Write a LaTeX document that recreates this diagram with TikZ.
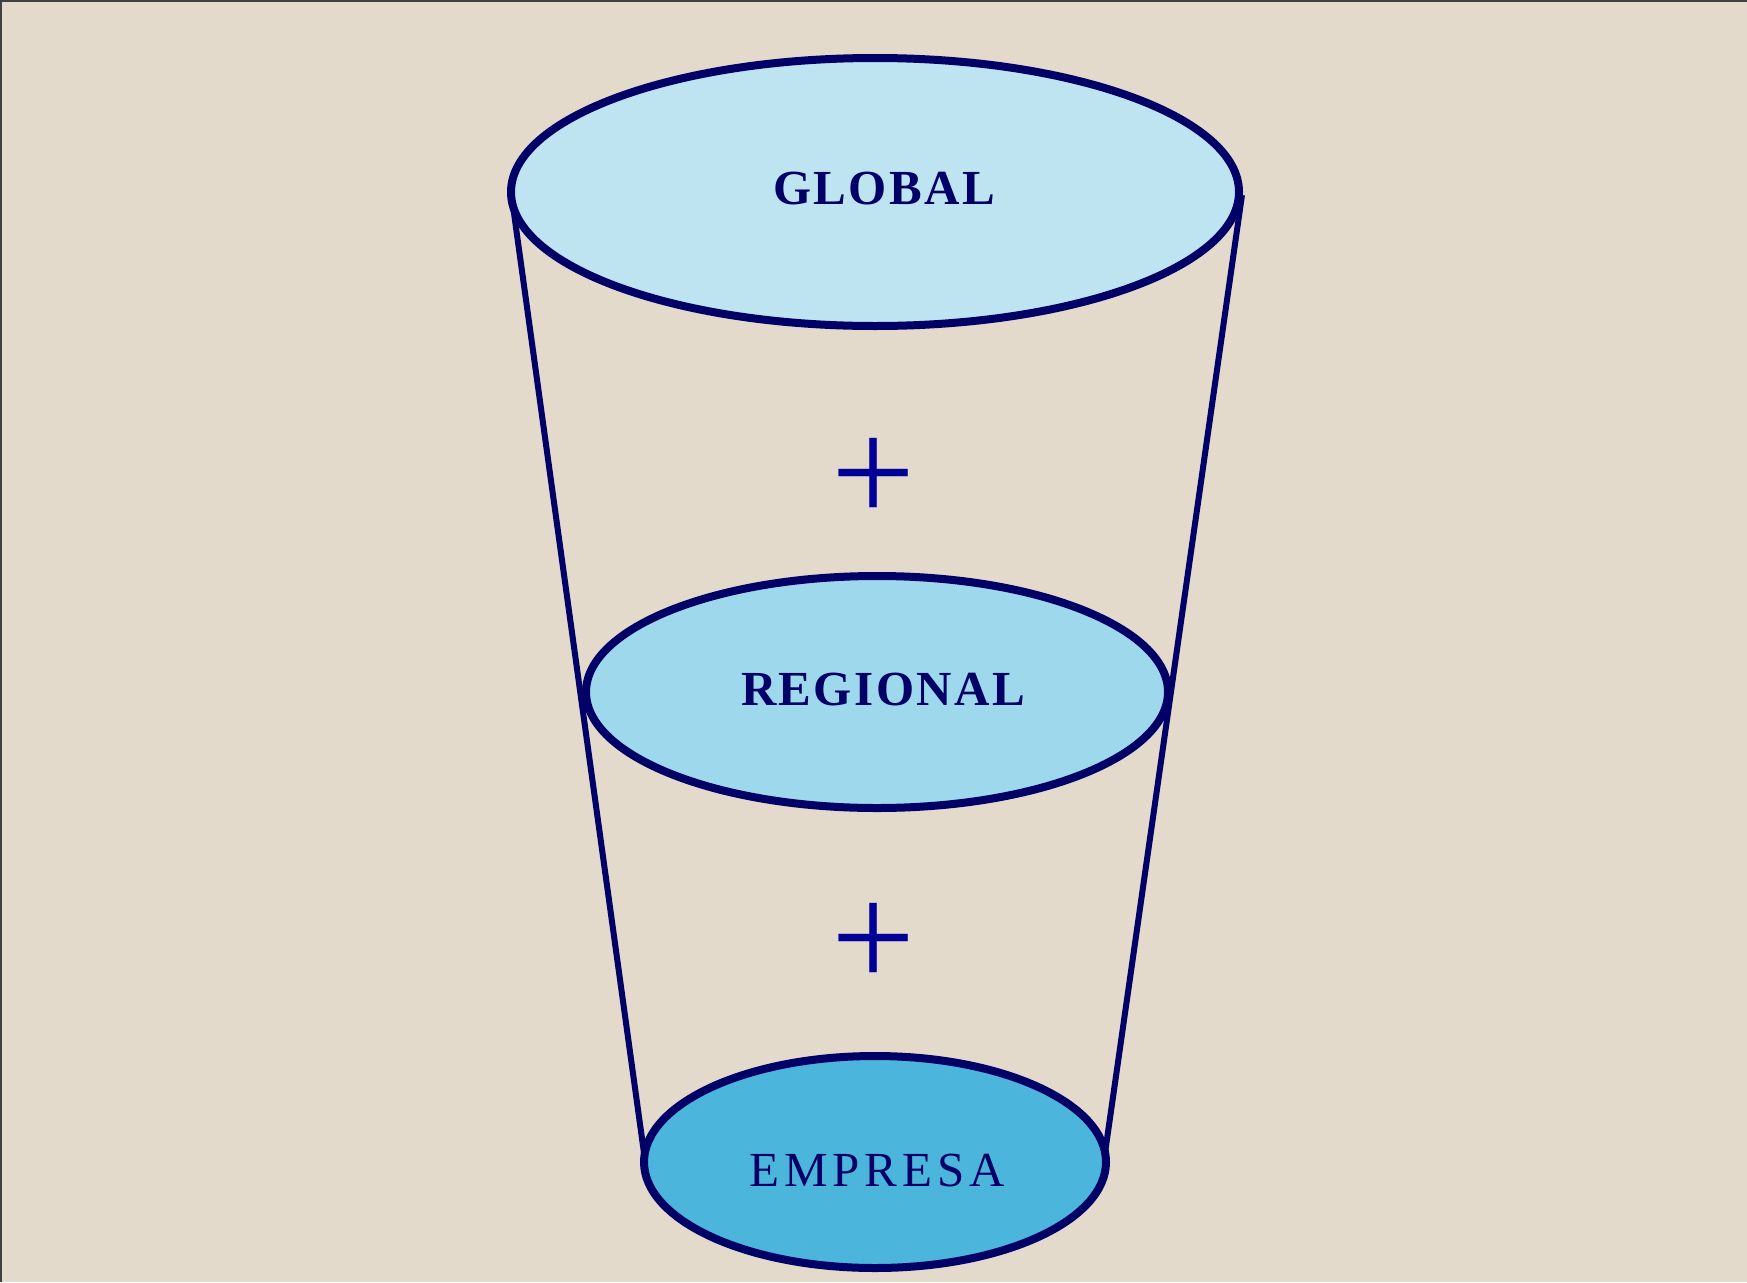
\documentclass[tikz,border=0pt]{standalone}
\usepackage{fontspec}
\setmainfont{Liberation Serif}
\definecolor{bgbeige}{HTML}{E3DACB}
\definecolor{navy}{HTML}{000066}
\definecolor{plusblue}{HTML}{000099}
\definecolor{fillglobal}{HTML}{BEE4F2}
\definecolor{fillregional}{HTML}{9DD8EC}
\definecolor{fillempresa}{HTML}{4BB5DC}
\usetikzlibrary{shapes.geometric}
\tikzset{
  level/.style={ellipse, draw=navy, line width=8pt, inner sep=0pt},
  side/.style={draw=navy, line width=6pt},
  plussign/.style={text=plusblue, font=\fontsize{149}{149}\selectfont, inner sep=0pt},
  lblbold/.style={text=navy, inner sep=0pt, font=\fontsize{49}{49}\selectfont\bfseries\addfontfeatures{LetterSpace=5}},
  lblreg/.style={text=navy, inner sep=0pt, font=\fontsize{49}{49}\selectfont\addfontfeatures{LetterSpace=10}},
}
\begin{document}
\begin{tikzpicture}[x=1pt,y=-1pt]
\fill[bgbeige] (0,0) rectangle (1747,1282);
\useasboundingbox (0,0) rectangle (1747,1282);
\draw[black!75, line width=2pt] (1,1282) -- (1,1) -- (1747,1);
% side lines
\coordinate (tl) at (513,206);
\coordinate (bl) at (644,1153);
\coordinate (tr) at (1242,195);
\coordinate (br) at (1105,1153);
\draw[side] (tl) -- (bl);
\draw[side] (tr) -- (br);
% levels
\node[level, fill=fillglobal, minimum width=728pt, minimum height=268pt] (global) at (875,192) {};
\node[lblbold] (tglobal) at (884,189) {GLOBAL};
\node[level, fill=fillregional, minimum width=582pt, minimum height=232pt] (regional) at (877,692) {};
\node[lblbold] (tregional) at (883,690) {REGIONAL};
\node[level, fill=fillempresa, minimum width=462pt, minimum height=212pt] (empresa) at (875,1162) {};
\node[lblreg] (tempresa) at (877,1170) {EMPRESA};
% plus signs
\node[plussign] (plus1) at (874,480) {+};
\node[plussign] (plus2) at (874,945) {+};
\end{tikzpicture}
\end{document}
